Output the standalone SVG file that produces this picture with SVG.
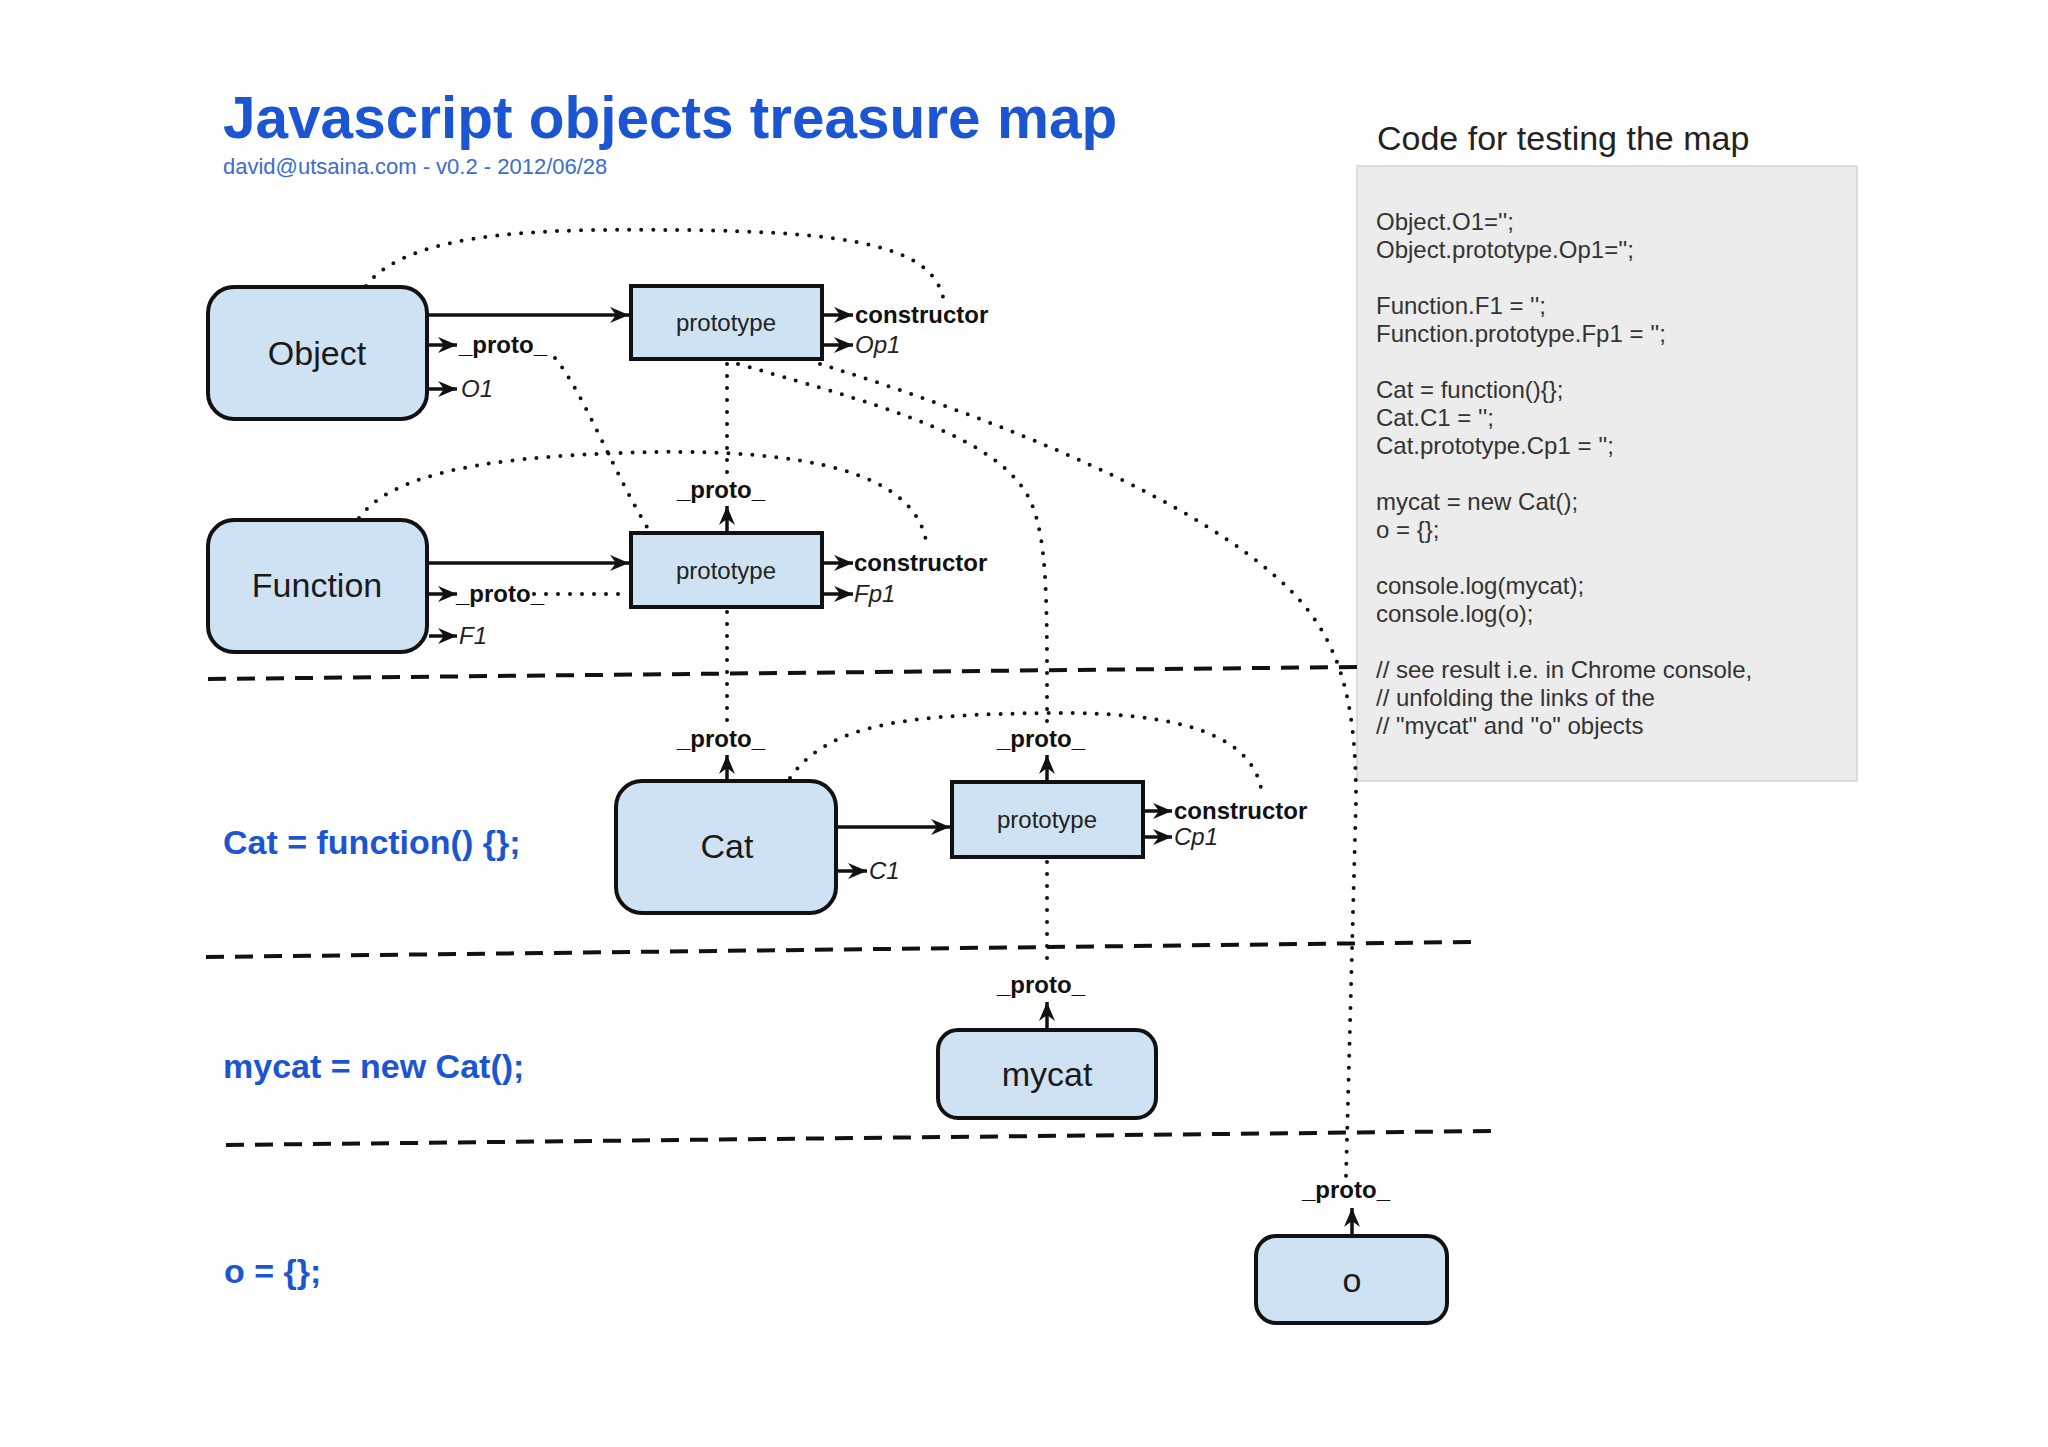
<svg xmlns="http://www.w3.org/2000/svg" width="2048" height="1447" viewBox="0 0 2048 1447">
<defs>
<marker id="ah" markerUnits="userSpaceOnUse" markerWidth="20" markerHeight="18" refX="19" refY="8" orient="auto">
<path d="M0,0 L19,8 L0,16 L6,8 z" fill="#111"/>
</marker>
<style>
.node{fill:#cfe2f3;stroke:#111;stroke-width:4}
.proto{fill:#cfe2f3;stroke:#111;stroke-width:4}
.nlabel{font-family:"Liberation Sans",Arial,sans-serif;font-size:34px;fill:#1a1a1a;text-anchor:middle}
.plabel{font-family:"Liberation Sans",Arial,sans-serif;font-size:24px;fill:#222;text-anchor:middle}
.arrow{fill:none;stroke:#111;stroke-width:3.5;marker-end:url(#ah)}
.dot{fill:none;stroke:#111;stroke-width:4;stroke-linecap:round;stroke-dasharray:0 12}
.dash{fill:none;stroke:#111;stroke-width:4;stroke-dasharray:18 11}
.bold{font-family:"Liberation Sans",Arial,sans-serif;font-size:24px;font-weight:bold;fill:#111}
.ital{font-family:"Liberation Sans",Arial,sans-serif;font-size:24px;font-style:italic;fill:#222}
.side{font-family:"Liberation Sans",Arial,sans-serif;font-size:34px;font-weight:bold;fill:#1b55d2}
.code{font-family:"Liberation Sans",Arial,sans-serif;font-size:24px;fill:#333}
</style>
</defs>
<rect width="2048" height="1447" fill="#ffffff"/>

<g id="title">
<text x="223" y="138" font-family="Liberation Sans, Arial, sans-serif" font-size="58.5" font-weight="bold" fill="#1b55d2">Javascript objects treasure map</text>
<text x="223" y="174" font-family="Liberation Sans, Arial, sans-serif" font-size="22" fill="#3a6cd4">david@utsaina.com - v0.2 - 2012/06/28</text>
</g>

<g id="code-panel">
<text x="1377" y="150" font-family="Liberation Sans, Arial, sans-serif" font-size="34" fill="#222">Code for testing the map</text>
<rect x="1357" y="166" width="500" height="615" fill="#ececec" stroke="#d4d4d4" stroke-width="1.5"/>
<text class="code" x="1376" y="230">Object.O1='';</text>
<text class="code" x="1376" y="258">Object.prototype.Op1='';</text>
<text class="code" x="1376" y="314">Function.F1 = '';</text>
<text class="code" x="1376" y="342">Function.prototype.Fp1 = '';</text>
<text class="code" x="1376" y="398">Cat = function(){};</text>
<text class="code" x="1376" y="426">Cat.C1 = '';</text>
<text class="code" x="1376" y="454">Cat.prototype.Cp1 = '';</text>
<text class="code" x="1376" y="510">mycat = new Cat();</text>
<text class="code" x="1376" y="538">o = {};</text>
<text class="code" x="1376" y="594">console.log(mycat);</text>
<text class="code" x="1376" y="622">console.log(o);</text>
<text class="code" x="1376" y="678">// see result i.e. in Chrome console,</text>
<text class="code" x="1376" y="706">// unfolding the links of the</text>
<text class="code" x="1376" y="734">// "mycat" and "o" objects</text>
</g>

<g id="section-labels">
<text class="side" x="223" y="854">Cat = function() {};</text>
<text class="side" x="223" y="1078">mycat = new Cat();</text>
<text class="side" x="224" y="1283">o = {};</text>
</g>

<g id="connectors">
<path class="dash" d="M208,679 L1358,667"/>
<path class="dash" d="M206,957 L1472,942"/>
<path class="dash" d="M226,1145 L1492,1131"/>
<path class="dot" d="M366,286 C410,228 560,229 680,230 C850,232 935,245 944,302"/>
<path class="dot" d="M359,518 C400,462 540,455 653,452 C800,450 920,470 927,548"/>
<path class="dot" d="M555,358 C585,395 612,470 650,532"/>
<path class="dot" d="M534,594 L626,594"/>
<path class="dot" d="M727,364 L727,478"/>
<path class="dot" d="M727,612 L727,726"/>
<path class="dot" d="M1047,862 L1047,970"/>
<path class="dot" d="M738,364 C900,410 1000,440 1030,500 C1048,540 1047,600 1047,726"/>
<path class="dot" d="M820,364 C1000,420 1200,500 1290,590 C1340,640 1356,700 1356,800 L1346,1176"/>
<path class="dot" d="M790,778 C830,720 920,715 1045,713 C1180,711 1255,735 1262,794"/>
<path class="arrow" d="M429,315 L629,315"/>
<path class="arrow" d="M429,563 L629,563"/>
<path class="arrow" d="M838,827 L950,827"/>
<path class="arrow" d="M429,345 L457,345"/>
<path class="arrow" d="M429,389 L457,389"/>
<path class="arrow" d="M824,315 L853,315"/>
<path class="arrow" d="M824,345 L853,345"/>
<path class="arrow" d="M429,594 L457,594"/>
<path class="arrow" d="M429,636 L457,636"/>
<path class="arrow" d="M824,563 L853,563"/>
<path class="arrow" d="M824,594 L853,594"/>
<path class="arrow" d="M838,871 L867,871"/>
<path class="arrow" d="M1145,811 L1172,811"/>
<path class="arrow" d="M1145,837 L1172,837"/>
<path class="arrow" d="M727,531 L727,506"/>
<path class="arrow" d="M727,779 L727,755"/>
<path class="arrow" d="M1047,780 L1047,755"/>
<path class="arrow" d="M1047,1028 L1047,1002"/>
<path class="arrow" d="M1352,1234 L1352,1208"/>
<text class="bold" x="459" y="353">_proto_</text>
<text class="ital" x="461" y="397">O1</text>
<text class="bold" x="855" y="323">constructor</text>
<text class="ital" x="855" y="353">Op1</text>
<text class="bold" x="456" y="602">_proto_</text>
<text class="ital" x="459" y="644">F1</text>
<text class="bold" x="854" y="571">constructor</text>
<text class="ital" x="854" y="602">Fp1</text>
<text class="ital" x="869" y="879">C1</text>
<text class="bold" x="1174" y="819">constructor</text>
<text class="ital" x="1174" y="845">Cp1</text>
<text class="bold" x="721" y="498" text-anchor="middle">_proto_</text>
<text class="bold" x="721" y="747" text-anchor="middle">_proto_</text>
<text class="bold" x="1041" y="747" text-anchor="middle">_proto_</text>
<text class="bold" x="1041" y="993" text-anchor="middle">_proto_</text>
<text class="bold" x="1346" y="1198" text-anchor="middle">_proto_</text>
</g>

<g id="node-object">
<rect class="node" x="208" y="287" width="219" height="132" rx="26"/>
<text class="nlabel" x="317" y="365">Object</text>
</g>
<g id="node-object-prototype">
<rect class="proto" x="631" y="286" width="191" height="73"/>
<text class="plabel" x="726" y="331">prototype</text>
</g>
<g id="node-function">
<rect class="node" x="208" y="520" width="219" height="132" rx="26"/>
<text class="nlabel" x="317" y="597">Function</text>
</g>
<g id="node-function-prototype">
<rect class="proto" x="631" y="533" width="191" height="74"/>
<text class="plabel" x="726" y="579">prototype</text>
</g>
<g id="node-cat">
<rect class="node" x="616" y="781" width="220" height="132" rx="26"/>
<text class="nlabel" x="727" y="858">Cat</text>
</g>
<g id="node-cat-prototype">
<rect class="proto" x="952" y="782" width="191" height="75"/>
<text class="plabel" x="1047" y="828">prototype</text>
</g>
<g id="node-mycat">
<rect class="node" x="938" y="1030" width="218" height="88" rx="20"/>
<text class="nlabel" x="1047" y="1086">mycat</text>
</g>
<g id="node-o">
<rect class="node" x="1256" y="1236" width="191" height="87" rx="20"/>
<text class="nlabel" x="1352" y="1292">o</text>
</g>
</svg>
